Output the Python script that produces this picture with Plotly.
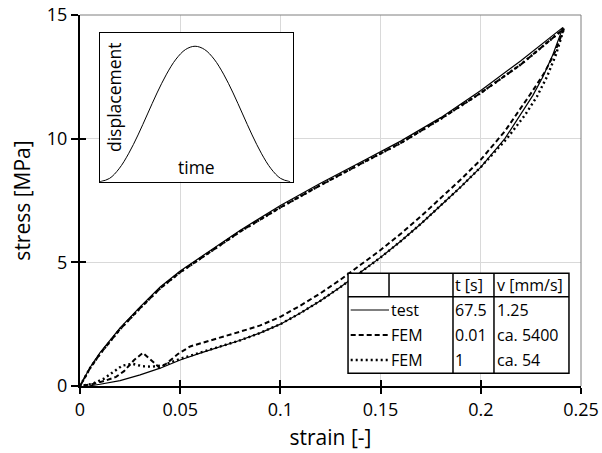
import plotly.graph_objects as go

# ---------------- data ----------------
test_strain = [0, 0.005, 0.01, 0.02, 0.03, 0.04, 0.05, 0.06, 0.08, 0.10, 0.12, 0.14, 0.16, 0.18, 0.20, 0.22, 0.241,
               0.236, 0.231, 0.226, 0.22, 0.212, 0.2, 0.19, 0.18, 0.17, 0.16, 0.15, 0.14, 0.13, 0.12, 0.11, 0.10,
               0.09, 0.08, 0.07, 0.06, 0.05, 0.04, 0.03, 0.02, 0.01, 0.005]
test_stress = [0, 0.75, 1.35, 2.35, 3.2, 4.0, 4.65, 5.2, 6.3, 7.3, 8.2, 9.05, 9.9, 10.85, 11.95, 13.15, 14.5,
               13.4, 12.5, 11.75, 11.0, 10.0, 8.85, 8.05, 7.3, 6.55, 5.85, 5.2, 4.6, 4.0, 3.45, 2.95, 2.5,
               2.15, 1.85, 1.6, 1.33, 1.05, 0.72, 0.45, 0.22, 0.07, 0.01]

fem001_strain = [0, 0.005, 0.01, 0.02, 0.03, 0.04, 0.05, 0.06, 0.08, 0.10, 0.12, 0.14, 0.16, 0.18, 0.20, 0.22, 0.2415,
                 0.237, 0.232, 0.226, 0.22, 0.212, 0.2, 0.19, 0.18, 0.17, 0.16, 0.15, 0.14, 0.13, 0.12, 0.11, 0.10,
                 0.09, 0.08, 0.07, 0.06, 0.055, 0.049, 0.043, 0.0398, 0.036, 0.0314, 0.027, 0.022, 0.018, 0.012,
                 0.006, 0]
fem001_stress = [0, 0.72, 1.3, 2.3, 3.15, 3.95, 4.6, 5.15, 6.25, 7.22, 8.12, 8.98, 9.82, 10.8, 11.85, 13.0, 14.45,
                 13.5, 12.7, 11.95, 11.25, 10.3, 9.15, 8.35, 7.6, 6.85, 6.15, 5.5, 4.9, 4.3, 3.75, 3.25, 2.8,
                 2.45, 2.2, 1.95, 1.72, 1.6, 1.3, 0.9, 0.73, 1.0, 1.34, 1.05, 0.6, 0.37, 0.2,
                 0.07, 0]

fem1_strain = [0, 0.005, 0.01, 0.02, 0.03, 0.04, 0.05, 0.06, 0.08, 0.10, 0.12, 0.14, 0.16, 0.18, 0.20, 0.22, 0.2415,
               0.2375, 0.233, 0.228, 0.222, 0.213, 0.2, 0.19, 0.18, 0.17, 0.16, 0.15, 0.14, 0.13, 0.12, 0.11, 0.10,
               0.09, 0.08, 0.07, 0.06, 0.05, 0.042, 0.036, 0.031, 0.026, 0.021, 0.017, 0.012, 0.006, 0]
fem1_stress = [0, 0.72, 1.3, 2.3, 3.15, 3.95, 4.6, 5.15, 6.25, 7.22, 8.12, 8.98, 9.82, 10.8, 11.85, 13.0, 14.45,
               13.4, 12.5, 11.7, 10.95, 10.0, 8.85, 8.05, 7.3, 6.55, 5.85, 5.2, 4.6, 4.0, 3.45, 2.95, 2.5,
               2.15, 1.85, 1.6, 1.38, 1.1, 0.85, 0.78, 0.8, 0.9, 0.82, 0.6, 0.3, 0.08, 0]

inset_time = [0, 1, 2, 3, 4, 5, 6, 7, 8, 9, 10, 11, 12, 13, 14, 15, 16, 17, 18, 19, 20]
inset_disp = [0, 0.024, 0.095, 0.206, 0.345, 0.5, 0.655, 0.794, 0.905, 0.976, 1.0, 0.976, 0.905, 0.794,
              0.655, 0.5, 0.345, 0.206, 0.095, 0.024, 0]

x_ticks = [0, 0.05, 0.1, 0.15, 0.2, 0.25]
x_tick_labels = ["0", "0.05", "0.1", "0.15", "0.2", "0.25"]
y_ticks = [0, 5, 10, 15]
y_tick_labels = ["0", "5", "10", "15"]

table_header = ["", "", "t [s]", "v [mm/s]"]
table_rows = [["test", "67.5", "1.25"], ["FEM", "0.01", "ca. 5400"], ["FEM", "1", "ca. 54"]]
row_dash = ["solid", "5px,3px", "2px,3px"]

FONT = "Open Sans"

fig = go.Figure()
fig.add_trace(go.Scatter(x=test_strain, y=test_stress, mode="lines", line=dict(color="black", width=1.2),
                         showlegend=False, hoverinfo="skip"))
fig.add_trace(go.Scatter(x=fem001_strain, y=fem001_stress, mode="lines",
                         line=dict(color="black", width=2, dash="5px,3px"), showlegend=False, hoverinfo="skip"))
fig.add_trace(go.Scatter(x=fem1_strain, y=fem1_stress, mode="lines",
                         line=dict(color="black", width=2.4, dash="2px,3px"), showlegend=False, hoverinfo="skip"))
# dummy trace for the overlay axes (inside half of crossing ticks)
fig.add_trace(go.Scatter(x=[None], y=[None], xaxis="x2", yaxis="y2", showlegend=False, hoverinfo="skip"))
# inset
fig.add_trace(go.Scatter(x=inset_time, y=inset_disp, xaxis="x3", yaxis="y3", mode="lines",
                         line=dict(color="black", width=1, shape="spline"), showlegend=False, hoverinfo="skip"))

axis_common = dict(showline=True, linecolor="black", linewidth=2, zeroline=False,
                   tickcolor="black", tickwidth=1.5, automargin=False,
                   tickfont=dict(family=FONT, size=18, color="black"))

fig.update_layout(
    width=602, height=453,
    margin=dict(l=80, r=21, t=15, b=67),
    paper_bgcolor="white", plot_bgcolor="white",
    font=dict(family=FONT, color="black"),
    xaxis=dict(range=[0, 0.25], tickvals=x_ticks, ticktext=x_tick_labels, ticks="outside", ticklen=6,
               showgrid=True, gridcolor="#d9d9d9", gridwidth=1,
               title=dict(text="strain [-]", font=dict(family=FONT, size=21, color="black"), standoff=11),
               **axis_common),
    yaxis=dict(range=[0, 15], tickvals=y_ticks, ticktext=y_tick_labels, ticks="outside", ticklen=7,
               showgrid=True, gridcolor="#d9d9d9", gridwidth=1,
               title=dict(text="stress [MPa]", font=dict(family=FONT, size=21, color="black"), standoff=10),
               **axis_common),
    xaxis2=dict(range=[0, 0.25], tickvals=x_ticks, overlaying="x", anchor="y2", side="bottom",
                ticks="inside", ticklen=6, tickwidth=1.5, tickcolor="black", showticklabels=False,
                showgrid=False, zeroline=False, showline=False, automargin=False),
    yaxis2=dict(range=[0, 15], tickvals=y_ticks, overlaying="y", anchor="x2", side="left",
                ticks="inside", ticklen=6, tickwidth=1.5, tickcolor="black", showticklabels=False,
                showgrid=False, zeroline=False, showline=False, automargin=False),
    xaxis3=dict(domain=[0.0399, 0.4251], anchor="y3", range=[0, 20.3], showline=True, mirror=True,
                linecolor="black", linewidth=1, showgrid=False, zeroline=False, ticks="", showticklabels=False,
                automargin=False),
    yaxis3=dict(domain=[0.5507, 0.9523], anchor="x3", range=[0, 1.1], showline=True, mirror=True,
                linecolor="black", linewidth=1, showgrid=False, zeroline=False, ticks="", showticklabels=False,
                automargin=False),
)

shapes = []
# white background of inset
shapes.append(dict(type="rect", xref="x3 domain", yref="y3 domain", x0=0, x1=1, y0=0, y1=1,
                   fillcolor="white", line=dict(width=0), layer="below"))
# top/right plot border
shapes.append(dict(type="path", xref="paper", yref="paper", path="M 0 1 L 1 1 L 1 0",
                   line=dict(color="#7f7f7f", width=1), layer="above"))

# table
tx = [0.535, 0.6168, 0.7445, 0.8263, 0.976]
ty_top, ty_head, ty_bot = 0.3038, 0.2407, 0.0342
shapes.append(dict(type="rect", xref="paper", yref="paper", x0=tx[0], x1=tx[4], y0=ty_bot, y1=ty_top,
                   fillcolor="white", line=dict(color="black", width=1.5), layer="above"))
shapes.append(dict(type="line", xref="paper", yref="paper", x0=tx[0], x1=tx[4], y0=ty_head, y1=ty_head,
                   line=dict(color="black", width=1.5), layer="above"))
shapes.append(dict(type="line", xref="paper", yref="paper", x0=tx[1], x1=tx[1], y0=ty_head, y1=ty_top,
                   line=dict(color="black", width=1.5), layer="above"))
for c in (tx[2], tx[3]):
    shapes.append(dict(type="line", xref="paper", yref="paper", x0=c, x1=c, y0=ty_bot, y1=ty_top,
                       line=dict(color="black", width=1.5), layer="above"))
row_y = [0.2049, 0.1375, 0.0701]
for ry, d, w in zip(row_y, row_dash, [1.2, 2, 2.4]):
    shapes.append(dict(type="line", xref="paper", yref="paper", x0=0.5403, x1=tx[1], y0=ry, y1=ry,
                       line=dict(color="black", width=w, dash=d), layer="above"))
fig.update_layout(shapes=shapes)

ann = []
text_x = [None, 0.6175, 0.7455, 0.8283]
for j in (2, 3):
    ann.append(dict(x=text_x[j], y=0.2722, xref="paper", yref="paper", text=table_header[j], showarrow=False,
                    xanchor="left", yanchor="middle", font=dict(family=FONT, size=16, color="black")))
for ry, row in zip(row_y, table_rows):
    for j, t in enumerate(row):
        ann.append(dict(x=text_x[j + 1], y=ry, xref="paper", yref="paper", text=t, showarrow=False,
                        xanchor="left", yanchor="middle", font=dict(family=FONT, size=16, color="black")))
# inset labels
ann.append(dict(x=(113.3 - 80) / 501, y=(386 - 96.7) / 371, xref="paper", yref="paper", text="displacement",
                textangle=-90, showarrow=False, xanchor="center", yanchor="middle",
                font=dict(family=FONT, size=17.5, color="black")))
ann.append(dict(x=(196 - 80) / 501, y=(386 - 166.7) / 371, xref="paper", yref="paper", text="time",
                showarrow=False, xanchor="center", yanchor="middle",
                font=dict(family=FONT, size=17.5, color="black")))
fig.update_layout(annotations=ann)

fig.write_html("out.html")
